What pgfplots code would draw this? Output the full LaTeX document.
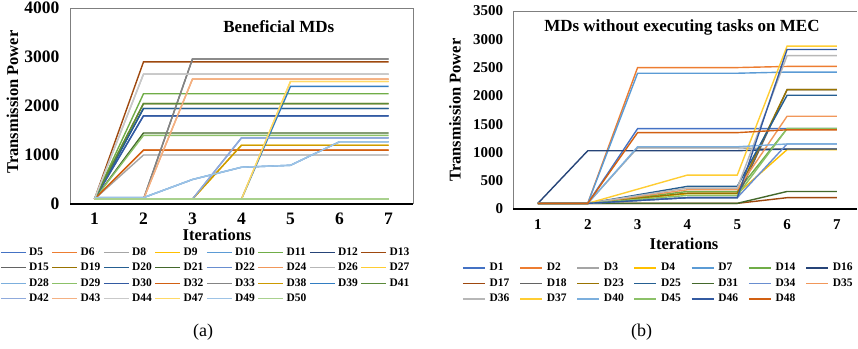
\documentclass[border=0pt]{standalone}
\usepackage{fontspec}
\setmainfont{Liberation Serif}
\usepackage{pgfplots}
\pgfplotsset{compat=1.18}
\definecolor{c1}{HTML}{4472C4}
\definecolor{c2}{HTML}{ED7D31}
\definecolor{c3}{HTML}{A5A5A5}
\definecolor{c4}{HTML}{FFC000}
\definecolor{c5}{HTML}{5B9BD5}
\definecolor{c6}{HTML}{70AD47}
\definecolor{c7}{HTML}{264478}
\definecolor{c8}{HTML}{9E480E}
\definecolor{c9}{HTML}{636363}
\definecolor{c10}{HTML}{997300}
\definecolor{c11}{HTML}{255E91}
\definecolor{c12}{HTML}{43682B}
\definecolor{c13}{HTML}{698ED0}
\definecolor{c14}{HTML}{F1975A}
\definecolor{c15}{HTML}{B7B7B7}
\definecolor{c16}{HTML}{FFCD33}
\definecolor{c17}{HTML}{7CAFDD}
\definecolor{c18}{HTML}{8CC168}
\definecolor{c19}{HTML}{335AA1}
\definecolor{c20}{HTML}{D26012}
\definecolor{c21}{HTML}{848484}
\definecolor{c22}{HTML}{CC9A00}
\definecolor{c23}{HTML}{327DC2}
\definecolor{c24}{HTML}{5A8A39}
\definecolor{c25}{HTML}{8FAADC}
\definecolor{c26}{HTML}{F4B183}
\definecolor{c27}{HTML}{C9C9C9}
\definecolor{c28}{HTML}{FFD966}
\definecolor{c29}{HTML}{9DC3E6}
\definecolor{c30}{HTML}{A9D18E}
\definecolor{axgray}{HTML}{7F7F7F}
\newcommand\lgdA[1]{\hspace{2.5pt}\makebox[22.6pt][l]{#1}}
\newcommand\lgdB[1]{\hspace{4pt}\makebox[29.8pt][l]{#1}}
\pgfplotsset{
  base/.style={
    scale only axis, clip=false,
    axis line style={draw=none},
    major tick length=0pt,
    /pgf/number format/assume math mode=true,
    /pgf/number format/1000 sep={},
    xtick={1,...,7}, xmin=0.5, ymin=0,
    every axis plot/.append style={line width=1.4pt, mark=none},
    legend style={draw=none, fill=none, inner sep=0pt, anchor=north west,
      /tikz/column sep=0pt, /tikz/row sep=5.5pt,
      nodes={inner sep=0pt, text height=8pt, text depth=2pt,
        font=\fontsize{11.5}{13}\selectfont\bfseries}},
    legend cell align=left,
    title style={anchor=center, yshift=-6pt, font=\fontsize{17}{19}\selectfont\bfseries},
    label style={font=\fontsize{16.5}{18}\selectfont\bfseries},
    ylabel style={anchor=center},
    xlabel style={anchor=center},
  }
}
\begin{document}
\begin{tikzpicture}
\useasboundingbox (0pt,0pt) rectangle (858pt,348pt);
% ---------------- (a) ----------------
\begin{axis}[base,
  at={(70pt,144pt)}, anchor=south west, width=343pt, height=196pt,
  xmax=7.5, ymax=4000, ytick={0,1000,...,4000},
  tick label style={font=\fontsize{17.5}{19}\selectfont\bfseries},
  yticklabel style={xshift=-7pt},
  xticklabel style={yshift=-5.2pt},
  title={Beneficial MDs},
  title style={at={(axis description cs:0.609,0.903)}},
  xlabel={Iterations},
  xlabel style={at={(axis description cs:0.4286,-0.158)}},
  ylabel={Transmission Power},
  ylabel style={at={(axis description cs:-0.1676,0.5204)}},
  legend columns=8,
  legend image code/.code={\draw[#1] (0pt,0pt) -- (25pt,0pt);},
  legend style={at={(axis description cs:-0.2041,-0.2194)}},
]
\draw[axgray, line width=1pt] (rel axis cs:0,0) -- (rel axis cs:0,1) -- (rel axis cs:1,1) -- (rel axis cs:1,0);
\addplot[c1]  coordinates {(1,100)(2,1800)(3,1800)(4,1800)(5,1800)(6,1800)(7,1800)};
\addplot[c2]  coordinates {(1,100)(2,1100)(3,1100)(4,1100)(5,1100)(6,1100)(7,1100)};
\addplot[c3]  coordinates {(1,100)(2,1000)(3,1000)(4,1000)(5,1000)(6,1000)(7,1000)};
\addplot[c4]  coordinates {(1,100)(2,100)(3,100)(4,1200)(5,1200)(6,1200)(7,1200)};
\addplot[c5]  coordinates {(1,130)(2,130)(3,500)(4,750)(5,790)(6,1270)(7,1270)};
\addplot[c6]  coordinates {(1,100)(2,2250)(3,2250)(4,2250)(5,2250)(6,2250)(7,2250)};
\addplot[c7]  coordinates {(1,100)(2,1950)(3,1950)(4,1950)(5,1950)(6,1950)(7,1950)};
\addplot[c8]  coordinates {(1,100)(2,2900)(3,2900)(4,2900)(5,2900)(6,2900)(7,2900)};
\addplot[c9]  coordinates {(1,100)(2,100)(3,2960)(4,2960)(5,2960)(6,2960)(7,2960)};
\addplot[c10] coordinates {(1,100)(2,2050)(3,2050)(4,2050)(5,2050)(6,2050)(7,2050)};
\addplot[c11] coordinates {(1,100)(2,1950)(3,1950)(4,1950)(5,1950)(6,1950)(7,1950)};
\addplot[c12] coordinates {(1,100)(2,1450)(3,1450)(4,1450)(5,1450)(6,1450)(7,1450)};
\addplot[c13] coordinates {(1,100)(2,100)(3,100)(4,1350)(5,1350)(6,1350)(7,1350)};
\addplot[c14] coordinates {(1,100)(2,100)(3,2550)(4,2550)(5,2550)(6,2550)(7,2550)};
\addplot[c15] coordinates {(1,100)(2,2650)(3,2650)(4,2650)(5,2650)(6,2650)(7,2650)};
\addplot[c16] coordinates {(1,100)(2,100)(3,100)(4,100)(5,2500)(6,2500)(7,2500)};
\addplot[c17] coordinates {(1,130)(2,130)(3,500)(4,750)(5,790)(6,1270)(7,1270)};
\addplot[c18] coordinates {(1,100)(2,1400)(3,1400)(4,1400)(5,1400)(6,1400)(7,1400)};
\addplot[c19] coordinates {(1,100)(2,1800)(3,1800)(4,1800)(5,1800)(6,1800)(7,1800)};
\addplot[c20] coordinates {(1,100)(2,1100)(3,1100)(4,1100)(5,1100)(6,1100)(7,1100)};
\addplot[c21] coordinates {(1,100)(2,100)(3,2960)(4,2960)(5,2960)(6,2960)(7,2960)};
\addplot[c22] coordinates {(1,100)(2,100)(3,100)(4,1200)(5,1200)(6,1200)(7,1200)};
\addplot[c23] coordinates {(1,100)(2,100)(3,100)(4,100)(5,2400)(6,2400)(7,2400)};
\addplot[c24] coordinates {(1,100)(2,2050)(3,2050)(4,2050)(5,2050)(6,2050)(7,2050)};
\addplot[c25] coordinates {(1,100)(2,100)(3,100)(4,1350)(5,1350)(6,1350)(7,1350)};
\addplot[c26] coordinates {(1,100)(2,100)(3,2550)(4,2550)(5,2550)(6,2550)(7,2550)};
\addplot[c27] coordinates {(1,100)(2,2650)(3,2650)(4,2650)(5,2650)(6,2650)(7,2650)};
\addplot[c28] coordinates {(1,100)(2,100)(3,100)(4,100)(5,2500)(6,2500)(7,2500)};
\addplot[c29] coordinates {(1,130)(2,130)(3,500)(4,750)(5,790)(6,1270)(7,1270)};
\addplot[c30] coordinates {(1,100)(2,100)(3,100)(4,100)(5,100)(6,100)(7,100)};
\legend{\lgdA{D5},\lgdA{D6},\lgdA{D8},\lgdA{D9},\lgdA{D10},\lgdA{D11},\lgdA{D12},\lgdA{D13},
\lgdA{D15},\lgdA{D19},\lgdA{D20},\lgdA{D21},\lgdA{D22},\lgdA{D24},\lgdA{D26},\lgdA{D27},
\lgdA{D28},\lgdA{D29},\lgdA{D30},\lgdA{D32},\lgdA{D33},\lgdA{D38},\lgdA{D39},\lgdA{D41},
\lgdA{D42},\lgdA{D43},\lgdA{D44},\lgdA{D47},\lgdA{D49},\lgdA{D50}}
\draw[black, line width=1.3pt] (rel axis cs:0,0) -- (rel axis cs:1,0);
\end{axis}
% ---------------- (b) ----------------
\begin{axis}[base,
  at={(513pt,139pt)}, anchor=south west, width=344pt, height=198pt,
  xmax=7.403, ymax=3500, ytick={0,500,...,3500},
  tick label style={font=\fontsize{15}{17}\selectfont\bfseries},
  yticklabel style={xshift=-6.3pt},
  xticklabel style={yshift=-6.7pt},
  title={MDs without executing tasks on MEC},
  title style={at={(axis description cs:0.491,0.919)}},
  xlabel={Iterations},
  xlabel style={at={(axis description cs:0.497,-0.1768)}},
  ylabel={Transmission Power},
  ylabel style={at={(axis description cs:-0.1686,0.5)}},
  legend columns=7,
  legend image code/.code={\draw[#1] (0pt,0pt) -- (22pt,0pt);},
  legend style={at={(axis description cs:-0.1483,-0.2712)}},
]
\draw[axgray, line width=1pt] (rel axis cs:0,0) -- (rel axis cs:0,1) -- (rel axis cs:1,1);
\addplot[c1]  coordinates {(1,100)(2,100)(3,1420)(4,1420)(5,1420)(6,1420)(7,1420)};
\addplot[c2]  coordinates {(1,100)(2,100)(3,2500)(4,2500)(5,2500)(6,2520)(7,2520)};
\addplot[c3]  coordinates {(1,100)(2,100)(3,1080)(4,1080)(5,1080)(6,1060)(7,1060)};
\addplot[c4]  coordinates {(1,100)(2,100)(3,185)(4,270)(5,270)(6,1050)(7,1050)};
\addplot[c5]  coordinates {(1,100)(2,100)(3,2400)(4,2400)(5,2400)(6,2420)(7,2420)};
\addplot[c6]  coordinates {(1,100)(2,100)(3,205)(4,310)(5,310)(6,1420)(7,1420)};
\addplot[c7]  coordinates {(1,100)(2,1030)(3,1030)(4,1030)(5,1030)(6,1060)(7,1060)};
\addplot[c8]  coordinates {(1,100)(2,100)(3,100)(4,100)(5,100)(6,200)(7,200)};
\addplot[c9]  coordinates {(1,100)(2,100)(3,150)(4,200)(5,200)(6,2110)(7,2110)};
\addplot[c10] coordinates {(1,100)(2,100)(3,190)(4,280)(5,280)(6,2110)(7,2110)};
\addplot[c11] coordinates {(1,100)(2,100)(3,250)(4,400)(5,400)(6,2010)(7,2010)};
\addplot[c12] coordinates {(1,100)(2,100)(3,100)(4,100)(5,100)(6,310)(7,310)};
\addplot[c13] coordinates {(1,100)(2,100)(3,150)(4,200)(5,200)(6,1150)(7,1150)};
\addplot[c14] coordinates {(1,100)(2,100)(3,220)(4,340)(5,340)(6,1640)(7,1640)};
\addplot[c15] coordinates {(1,100)(2,100)(3,235)(4,370)(5,370)(6,2710)(7,2710)};
\addplot[c16] coordinates {(1,100)(2,100)(3,350)(4,600)(5,600)(6,2880)(7,2880)};
\addplot[c17] coordinates {(1,100)(2,100)(3,1100)(4,1100)(5,1100)(6,1150)(7,1150)};
\addplot[c18] coordinates {(1,100)(2,100)(3,170)(4,240)(5,240)(6,1420)(7,1420)};
\addplot[c19] coordinates {(1,100)(2,100)(3,150)(4,200)(5,200)(6,2820)(7,2820)};
\addplot[c20] coordinates {(1,100)(2,100)(3,1350)(4,1350)(5,1350)(6,1400)(7,1400)};
\legend{\lgdB{D1},\lgdB{D2},\lgdB{D3},\lgdB{D4},\lgdB{D7},\lgdB{D14},\lgdB{D16},
\lgdB{D17},\lgdB{D18},\lgdB{D23},\lgdB{D25},\lgdB{D31},\lgdB{D34},\lgdB{D35},
\lgdB{D36},\lgdB{D37},\lgdB{D40},\lgdB{D45},\lgdB{D46},\lgdB{D48}}
\draw[black, line width=1.3pt] (rel axis cs:0,0) -- (rel axis cs:1,0);
\end{axis}
\node[font=\fontsize{18}{20}\selectfont] at (203pt,16.3pt) {(a)};
\node[font=\fontsize{18}{20}\selectfont] at (641.7pt,16.3pt) {(b)};
\end{tikzpicture}
\end{document}
